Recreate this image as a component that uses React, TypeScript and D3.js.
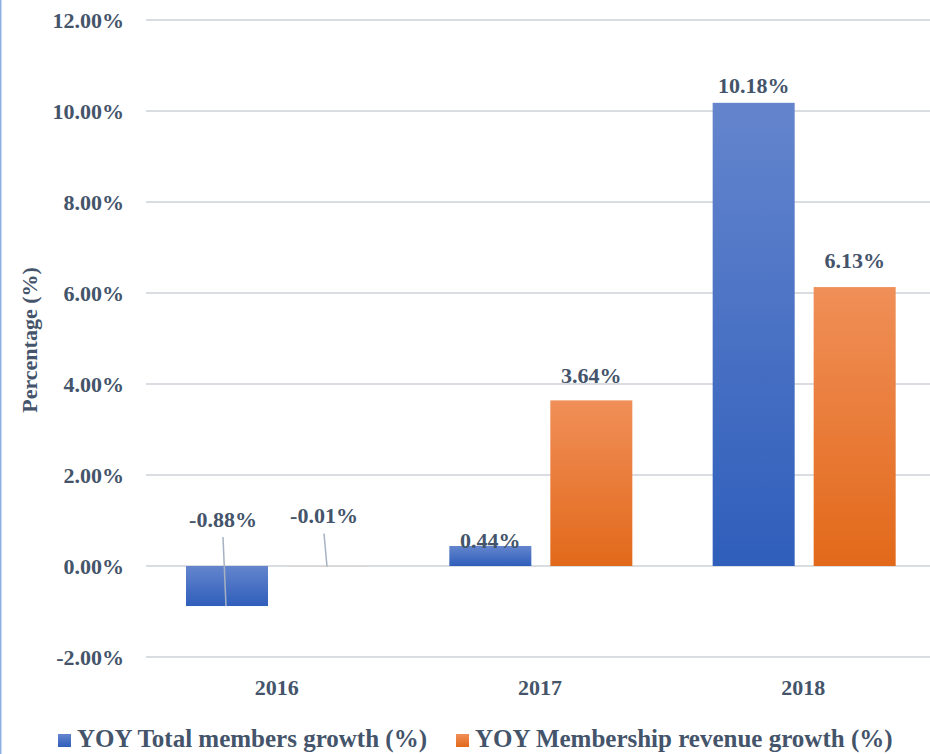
import React, { useRef, useEffect } from "react";
import * as d3 from "d3";

const years = ["2016", "2017", "2018"];
const membersGrowth = [-0.88, 0.44, 10.18];
const revenueGrowth = [-0.01, 3.64, 6.13];
const seriesNames = ["YOY Total members growth (%)", "YOY Membership revenue growth (%)"];
const yTicks = [-2, 0, 2, 4, 6, 8, 10, 12];

const W = 930;
const H = 754;
const FONT = "'Liberation Serif', 'Times New Roman', serif";
const TEXT = "#44546A";

// label placement tweaks (dx, dy from bar end), Excel had them hand-moved
const labelShift = [
  [{ dx: -4, dy: -79, leader: true }, { dx: -4, dy: -43, leader: true }],
  [{ dx: 0, dy: 2, leader: false }, { dx: 0, dy: -17, leader: false }],
  [{ dx: 0, dy: -10, leader: false }, { dx: 0, dy: -19, leader: false }],
];

// excel style: plain hyphen for negatives
const pct = (v: number) => d3.format(".2f")(v).replace("\u2212", "-") + "%";

export default function App() {
  const svgRef = useRef<SVGSVGElement>(null);

  useEffect(() => {
    const svg = d3.select(svgRef.current);
    svg.selectAll("*").remove();

    const x0 = d3.scaleBand().domain(years).range([146, 936]).paddingInner(0).paddingOuter(0);
    const x1 = d3.scaleBand().domain(["0", "1"]).range([40, 223]).paddingInner(0.188).paddingOuter(0);
    const y = d3.scaleLinear().domain([-2, 12]).range([657, 20]);

    const defs = svg.append("defs");
    const grads = [
      { id: "gBlue", top: "#6485CD", bottom: "#2F5EBB" },
      { id: "gOrange", top: "#F08F58", bottom: "#E2691A" },
    ];
    grads.forEach(g => {
      const lg = defs.append("linearGradient").attr("id", g.id).attr("x1", 0).attr("y1", 0).attr("x2", 0).attr("y2", 1);
      lg.append("stop").attr("offset", "0%").attr("stop-color", g.top);
      lg.append("stop").attr("offset", "100%").attr("stop-color", g.bottom);
    });

    // left border of chart area
    svg.append("line").attr("x1", 0.75).attr("x2", 0.75).attr("y1", 0).attr("y2", H)
      .attr("stroke", "#8FB1E2").attr("stroke-width", 1.5);

    // grid
    svg.append("g").selectAll("line").data(yTicks).join("line")
      .attr("x1", 146).attr("x2", W)
      .attr("y1", d => y(d)).attr("y2", d => y(d))
      .attr("stroke", "#D9DCE1").attr("stroke-width", 2);

    // y tick labels
    svg.append("g").selectAll("text").data(yTicks).join("text")
      .attr("x", 124).attr("y", d => y(d)).attr("dy", "0.35em")
      .attr("text-anchor", "end")
      .attr("font-family", FONT).attr("font-weight", "bold").attr("font-size", 22)
      .attr("fill", TEXT)
      .text(d => pct(d));

    // y title
    svg.append("text")
      .attr("transform", `translate(37,340) rotate(-90)`)
      .attr("text-anchor", "middle")
      .attr("font-family", FONT).attr("font-weight", "bold").attr("font-size", 22)
      .attr("fill", TEXT)
      .text("Percentage (%)");

    const rows = years.map((yr, i) => ({ yr, vals: [membersGrowth[i], revenueGrowth[i]] }));

    const groups = svg.append("g").selectAll("g").data(rows).join("g")
      .attr("transform", d => `translate(${x0(d.yr)},0)`);

    groups.selectAll("rect").data(d => d.vals.map((v, k) => ({ v, k }))).join("rect")
      .attr("x", d => x1(String(d.k))!)
      .attr("width", x1.bandwidth())
      .attr("y", d => y(Math.max(0, d.v)))
      .attr("height", d => Math.abs(y(d.v) - y(0)))
      .attr("fill", d => `url(#${grads[d.k].id})`)
      .attr("fill-opacity", d => (Math.abs(y(d.v) - y(0)) < 1 ? 0.15 : 1));

    // data labels + leader lines
    const labels = svg.append("g");
    rows.forEach((r, i) => {
      r.vals.forEach((v, k) => {
        const cx = x0(r.yr)! + x1(String(k))! + x1.bandwidth() / 2;
        const end = y(v);
        const s = labelShift[i][k];
        const lx = cx + s.dx;
        const ly = end + s.dy;
        if (s.leader) {
          labels.append("line")
            .attr("x1", lx).attr("y1", ly + 10)
            .attr("x2", cx - 1).attr("y2", end)
            .attr("stroke", "#A6B2C2").attr("stroke-width", 1.5);
        }
        labels.append("text")
          .attr("x", lx).attr("y", ly)
          .attr("text-anchor", "middle")
          .attr("font-family", FONT).attr("font-weight", "bold").attr("font-size", 22)
          .attr("fill", TEXT)
          .text(pct(v));
      });
    });

    // x labels
    svg.append("g").selectAll("text").data(years).join("text")
      .attr("x", d => x0(d)! + x0.bandwidth() / 2 - 1)
      .attr("y", 695)
      .attr("text-anchor", "middle")
      .attr("font-family", FONT).attr("font-weight", "bold").attr("font-size", 22)
      .attr("fill", TEXT)
      .text(d => d);

    // legend
    const legendPos = [58, 456];
    const legend = svg.append("g").selectAll("g").data(seriesNames).join("g")
      .attr("transform", (d, i) => `translate(${legendPos[i]},0)`);
    legend.append("rect").attr("x", 0).attr("y", 734).attr("width", 13).attr("height", 13)
      .attr("fill", (d, i) => `url(#${grads[i].id})`);
    legend.append("text").attr("x", 19).attr("y", 747)
      .attr("font-family", FONT).attr("font-weight", "bold").attr("font-size", 25)
      .attr("fill", TEXT)
      .text(d => d);
  }, []);

  return (
    <div>
      <style>{`body{margin:0}`}</style>
      <svg ref={svgRef} width={W} height={H} style={{ display: "block", background: "#fff" }} />
    </div>
  );
}
